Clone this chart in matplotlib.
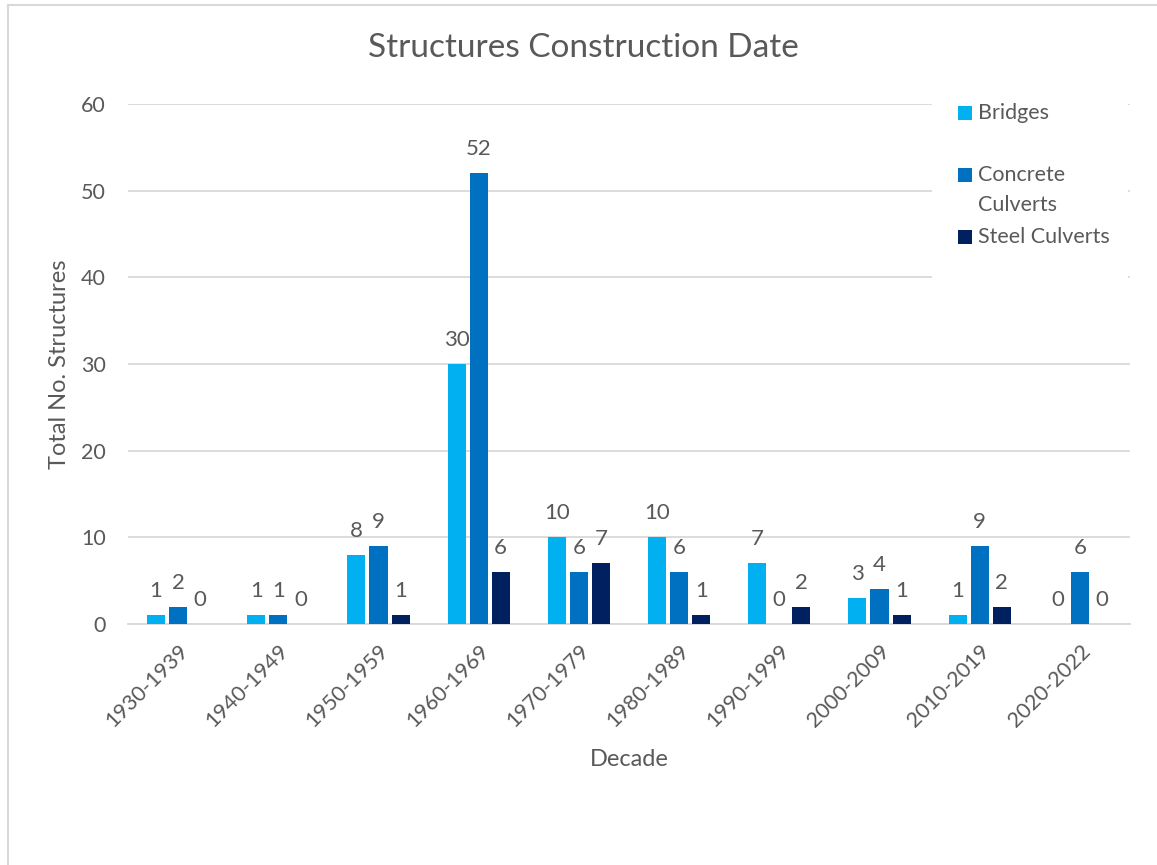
import matplotlib
matplotlib.use("Agg")
import matplotlib.pyplot as plt
import matplotlib.patches as mpatches
import numpy as np
from matplotlib.lines import Line2D

categories = ["1930-1939", "1940-1949", "1950-1959", "1960-1969", "1970-1979",
              "1980-1989", "1990-1999", "2000-2009", "2010-2019", "2020-2022"]
bridges = [1, 1, 8, 30, 10, 10, 7, 3, 1, 0]
concrete = [2, 1, 9, 52, 6, 6, 0, 4, 9, 6]
steel = [0, 0, 1, 6, 7, 1, 2, 1, 2, 0]
series_names = ["Bridges", "Concrete\nCulverts", "Steel Culverts"]
colors = ["#00B0F0", "#0070C0", "#002060"]

plt.rcParams['font.family'] = ['Lato', 'DejaVu Sans']
txt = "#595959"
grid = "#D9D9D9"
W, H = 1157, 865

fig = plt.figure(figsize=(W/100, H/100), dpi=100)
ax = fig.add_axes([128/W, 1-624/H, (1130-128)/W, (624-104)/H])

x = np.arange(len(categories))
w = 0.18
step = 0.22
for i, (vals, name, c) in enumerate(zip([bridges, concrete, steel], series_names, colors)):
    pos = x + (i - 1) * step
    ax.bar(pos, vals, width=w, color=c, label=name, zorder=3)
    for p, v in zip(pos, vals):
        ax.annotate(str(v), (p, v), xytext=(0, 10), textcoords="offset points",
                    ha="center", va="bottom", fontsize=16, color=txt)

ax.set_xlim(-0.5, len(categories) - 0.5)
ax.set_ylim(0, 60)
ax.set_yticks(range(0, 61, 10))
ax.yaxis.grid(True, color=grid, linewidth=1.3, zorder=0)
for s in ["top", "right", "left"]:
    ax.spines[s].set_visible(False)
ax.spines["bottom"].set_color(grid)
ax.spines["bottom"].set_linewidth(1.3)
ax.tick_params(axis="both", length=0, labelsize=15.5, labelcolor=txt)
ax.tick_params(axis="y", pad=16)
ax.set_xticks(x)
ax.set_xticklabels(categories, rotation=45, ha="right", rotation_mode="anchor")
ax.tick_params(axis="x", pad=12)

ax.set_ylabel("Total No. Structures", fontsize=17, color=txt, va="center")
ax.yaxis.set_label_coords((60-128)/1002, 0.5)
ax.set_xlabel("Decade", fontsize=17, color=txt, va="center")
ax.xaxis.set_label_coords(0.5, (624-760)/520)
fig.text(583/W, 1-48/H, "Structures Construction Date", fontsize=24,
         color=txt, ha="center", va="center")

# legend (Excel-style: evenly spaced entries, handle aligned to first line)
fig.add_artist(mpatches.Rectangle((932/W, 1-285/H), (1128-932)/W, (285-88)/H,
                                  transform=fig.transFigure, facecolor="white",
                                  edgecolor="none", zorder=4))
entry_y = [113, 175, 237]
for name, c, yy in zip(series_names, colors, entry_y):
    fig.add_artist(mpatches.Rectangle((958/W, 1-(yy+7)/H), 14/W, 14/H,
                                      transform=fig.transFigure, facecolor=c,
                                      edgecolor="none", zorder=5))
    fig.text(978/W, 1-(yy-10)/H, name, fontsize=15.5, color=txt, ha="left",
             va="top", linespacing=1.6, zorder=6)

# chart frame (partially visible)
fig.add_artist(Line2D([8/W, 8/W], [0, 1-5/H], transform=fig.transFigure,
                      color=grid, linewidth=1.5))
fig.add_artist(Line2D([8/W, 1], [1-5/H, 1-5/H], transform=fig.transFigure,
                      color=grid, linewidth=1.5))

fig.savefig("out.png", dpi=100, facecolor="white")
